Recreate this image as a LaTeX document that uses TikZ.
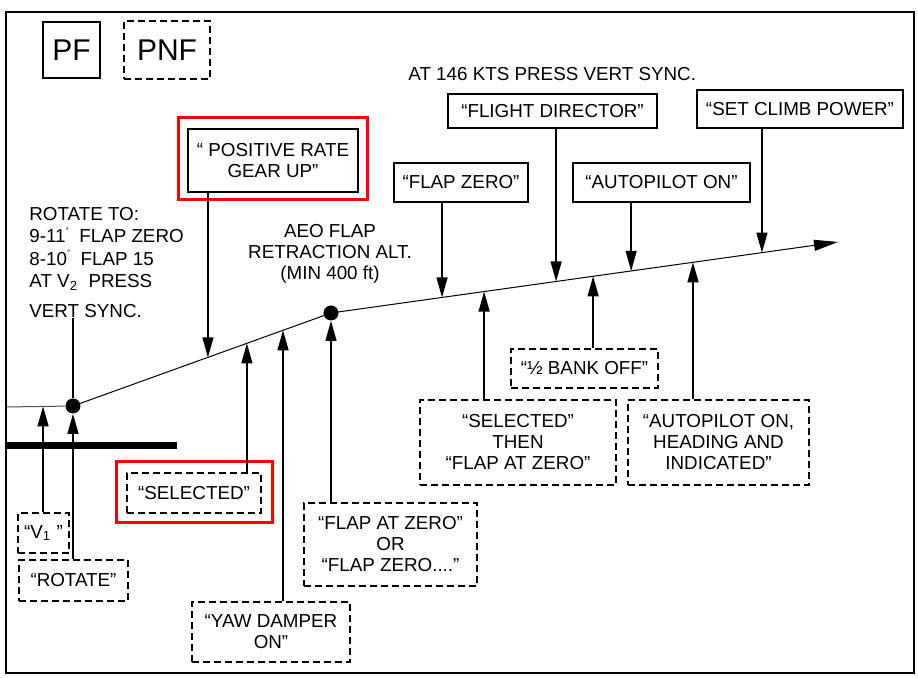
\documentclass[tikz,border=0pt]{standalone}
\usepackage{fontspec}
\setmainfont{Liberation Sans}
\usetikzlibrary{arrows.meta,positioning}

\newcommand{\callfont}{\fontsize{9.4}{10.5}\selectfont}
\newcommand{\crewfont}{\fontsize{15}{18}\selectfont}
\newcommand{\degmark}{\raisebox{0.95ex}{\fontsize{4}{4}\selectfont °}}

\tikzset{
  sz/.style 2 args={minimum width=#1*0.5pt,minimum height=#2*0.5pt},
  pfcall/.style={draw,line width=0.75pt,align=center,inner sep=0pt,font=\callfont},
  pnfcall/.style={pfcall,dash pattern=on 3.5pt off 2pt},
  tag/.style={draw=red,line width=1.5pt,inner sep=0pt},
  cue/.style={line width=0.65pt,-{Triangle[length=10pt,width=5.5pt]}},
  dot/.style={circle,fill,inner sep=0pt,minimum size=7.5pt},
}

\begin{document}
\begin{tikzpicture}[x=0.5pt,y=-0.5pt]
\useasboundingbox (0,0) rectangle (918,678);
\draw[line width=1.25pt] (6,12) rectangle (914,673);

% legend
\node[pfcall,sz={57}{56},font=\crewfont] (pf) at (71.5,50) {PF};
\node[pnfcall,sz={86}{58},font=\crewfont] (pnf) at (167,50) {PNF};

% flight path
\coordinate (start) at (6,407);
\coordinate (climb) at (838,242);
\node[dot] (rot) at (73,406) {};
\node[dot] (aeo) at (331,313) {};
\draw[gray!60!black,line width=0.5pt] (start) -- coordinate[pos=0.627] (v1pt) (rot);
\draw[line width=0.5pt] (rot.center)
  -- coordinate[pos=0.523] (gearpt) coordinate[pos=0.674] (selpt)
     coordinate[pos=0.814] (yawpt) (aeo.center);
\draw[line width=0.5pt,-{Triangle[length=12pt,width=5.5pt]}] (aeo.center)
  -- coordinate[pos=0.219] (fzpt) coordinate[pos=0.302] (thenpt)
     coordinate[pos=0.444] (fdpt) coordinate[pos=0.517] (bankpt)
     coordinate[pos=0.592] (appt) coordinate[pos=0.714] (hdgpt)
     coordinate[pos=0.850] (powpt) (climb);
\coordinate (gnd1) at (6,445.5);
\coordinate (gnd2) at (177,445.5);
\draw[line width=3.5pt] (gnd1) -- (gnd2);

% texts
\node[anchor=west,inner sep=0pt,font=\callfont] (sync) at (408,74) {AT 146 KTS PRESS VERT SYNC.};
\node[anchor=north west,align=left,inner sep=0pt,font=\fontsize{9.4}{11.2}\selectfont] (rotto) at (29,207)
  {ROTATE TO:\\9-11\degmark\ \ FLAP ZERO\\8-10\degmark\ \ FLAP 15\\AT V\textsubscript{2}\ \ PRESS\\[3.8pt]VERT SYNC.};
\node[align=center,inner sep=0pt,font=\callfont] (aeotxt) at (330,254)
  {AEO FLAP\\RETRACTION ALT.\\(MIN 400 ft)};

% PF calls
\node[pfcall,sz={170}{63}] (posrate) at (273,160.5) {“ POSITIVE RATE\\GEAR UP”};
\node[tag,sz={189}{82}] (posratetag) at (272.5,159) {};
\node[pfcall,sz={134}{39}] (flapzero) at (461,182.5) {“FLAP ZERO”};
\node[pfcall,sz={209}{34}] (fdir) at (552.5,111) {“FLIGHT DIRECTOR”};
\node[pfcall,sz={177}{39}] (apon) at (661.5,182.5) {“AUTOPILOT ON”};
\node[pfcall,sz={206}{38}] (power) at (800,109) {“SET CLIMB POWER”};

% PNF calls
\node[pnfcall,sz={51}{40}] (v1) at (43.5,533) {“V\textsubscript{1} ”};
\node[pnfcall,sz={109}{41}] (rotate) at (73.5,580.5) {“ROTATE”};
\node[pnfcall,sz={134}{40}] (sel) at (194,493) {“SELECTED”};
\node[tag,sz={156}{61}] (seltag) at (194,492.5) {};
\node[pnfcall,sz={158}{60}] (yaw) at (271,632) {“YAW DAMPER\\ON”};
\node[pnfcall,sz={173}{83}] (flapor) at (390.5,544.5) {“FLAP AT ZERO”\\OR\\“FLAP ZERO....”};
\node[pnfcall,sz={196}{85}] (then) at (518,442.5) {“SELECTED”\\THEN\\“FLAP AT ZERO”};
\node[pnfcall,sz={147}{39}] (bank) at (584.5,368.5) {“½ BANK OFF”};
\node[pnfcall,sz={181}{85}] (hdg) at (718.5,442.5) {“AUTOPILOT ON,\\HEADING AND\\INDICATED”};

% connectors
\draw[line width=0.65pt] (rotto.south -| rot) -- (rot);
\draw[cue] (v1.north -| v1pt) -- (v1pt);
\draw[cue] (rotate.north -| rot) -- (rot.south);
\draw[cue] (posrate.south -| gearpt) -- (gearpt);
\draw[cue] (sel.north -| selpt) -- (selpt);
\draw[cue] (yaw.north -| yawpt) -- (yawpt);
\draw[cue] (flapor.north -| aeo) -- (aeo.south);
\draw[cue] (flapzero.south -| fzpt) -- (fzpt);
\draw[cue] (then.north -| thenpt) -- (thenpt);
\draw[cue] (fdir.south -| fdpt) -- (fdpt);
\draw[cue] (bank.north -| bankpt) -- (bankpt);
\draw[cue] (apon.south -| appt) -- (appt);
\draw[cue] (hdg.north -| hdgpt) -- (hdgpt);
\draw[cue] (power.south -| powpt) -- (powpt);
\end{tikzpicture}
\end{document}
